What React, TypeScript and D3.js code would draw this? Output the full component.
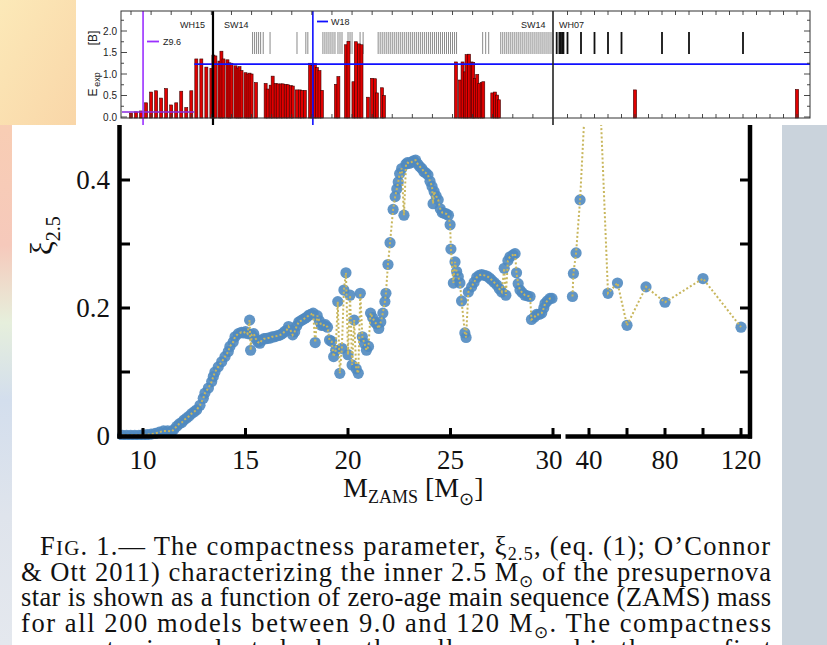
import React from "react";
import * as d3 from "d3";

// ---------------- main chart data (compactness xi_2.5 vs ZAMS mass) ----------------
const massLeft = [
  9.0, 9.2, 9.4, 9.6, 9.8, 10.0, 10.2, 10.4, 10.6, 10.8, 11.0, 11.2, 11.4,
  11.5, 11.64, 11.77, 11.89, 12.0, 12.13, 12.25, 12.37, 12.5, 12.62, 12.78, 12.94,
  13.02, 13.19, 13.35, 13.43, 13.51, 13.67, 13.84, 14.0, 14.16, 14.24, 14.4, 14.49,
  14.65, 14.8, 14.9, 15.0, 15.1, 15.2, 15.25, 15.3, 15.4, 15.5, 15.6, 15.7, 15.8,
  15.9, 16.0, 16.1, 16.2, 16.3, 16.4, 16.5, 16.6, 16.7, 16.8, 16.9, 17.0, 17.1,
  17.2, 17.3, 17.4, 17.5, 17.6, 17.7, 17.8, 17.9, 18.0, 18.1, 18.2, 18.3, 18.4,
  18.5, 18.6, 18.7, 18.8, 18.9, 19.0, 19.1, 19.2, 19.3, 19.4, 19.5, 19.6, 19.7,
  19.8, 19.9, 20.0, 20.1, 20.2, 20.3, 20.4, 20.5, 20.6, 20.7, 20.8, 20.9, 21.0,
  21.1, 21.2, 21.3, 21.4, 21.5, 21.6, 21.7, 21.8, 21.85, 21.95, 22.05, 22.2, 22.3,
  22.38, 22.45, 22.52, 22.62, 22.73, 22.83, 22.9, 23.0, 23.1, 23.2, 23.3, 23.4,
  23.5, 23.6, 23.7, 23.8, 23.9, 24.0, 24.1, 24.15, 24.2, 24.3, 24.4, 24.5, 24.6,
  24.7, 24.8, 24.9, 24.98, 25.02, 25.14, 25.22, 25.3, 25.38, 25.46, 25.54, 25.7,
  25.76, 25.87, 26.03, 26.15, 26.28, 26.4, 26.52, 26.65, 26.77, 26.9, 27.0, 27.13,
  27.26, 27.38, 27.5, 27.62, 27.7, 27.8, 27.9, 28.05, 28.15, 28.22, 28.3, 28.39,
  28.5, 28.63, 28.75, 28.88, 28.95, 29.1, 29.2, 29.33, 29.45, 29.55, 29.61, 29.72,
  29.85, 29.95,
];
const xiLeft = [
  0.001, 0.001, 0.001, 0.001, 0.001, 0.002, 0.002, 0.003, 0.004, 0.006, 0.008, 0.008, 0.007,
  0.010, 0.015, 0.019, 0.021, 0.025, 0.028, 0.031, 0.035, 0.038, 0.041, 0.048, 0.059,
  0.067, 0.075, 0.085, 0.093, 0.100, 0.108, 0.116, 0.124, 0.132, 0.140, 0.147, 0.155,
  0.160, 0.162, 0.161, 0.163, 0.160, 0.181, 0.134, 0.158, 0.160, 0.152, 0.147, 0.145, 0.150,
  0.152, 0.152, 0.153, 0.153, 0.155, 0.155, 0.156, 0.157, 0.158, 0.160, 0.163, 0.165, 0.171,
  0.165, 0.158, 0.163, 0.172, 0.178, 0.180, 0.182, 0.184, 0.186, 0.189, 0.190, 0.192, 0.146,
  0.188, 0.180, 0.173, 0.173, 0.174, 0.170, 0.150, 0.148, 0.124, 0.134, 0.210, 0.098, 0.137,
  0.228, 0.255, 0.127, 0.220, 0.111, 0.181, 0.105, 0.098, 0.223, 0.155, 0.145, 0.134, 0.140,
  0.192, 0.185, 0.178, 0.175, 0.168, 0.178, 0.192, 0.210, 0.223, 0.268, 0.302, 0.354, 0.374,
  0.386, 0.397, 0.410, 0.418, 0.345, 0.425, 0.427, 0.426, 0.428, 0.430, 0.431, 0.425,
  0.421, 0.418, 0.413, 0.411, 0.408, 0.398, 0.390, 0.363, 0.382, 0.375, 0.369, 0.355, 0.349,
  0.348, 0.347, 0.345, 0.330, 0.292, 0.239, 0.272, 0.257, 0.249, 0.239, 0.211, 0.161,
  0.154, 0.225, 0.233, 0.240, 0.248, 0.251, 0.252, 0.251, 0.250, 0.247, 0.244, 0.240,
  0.236, 0.230, 0.225, 0.262, 0.220, 0.274, 0.280, 0.283, 0.285, 0.255, 0.238, 0.228,
  0.224, 0.220, 0.219, 0.218, 0.182, 0.186, 0.190, 0.190, 0.192, 0.200, 0.207, 0.211,
  0.215, 0.215,
];
const massRight = [31.3, 31.8, 33.2, 35.3, 40, 45, 50, 55, 60, 70, 80, 100, 120];
const xiRight = [0.218, 0.254, 0.286, 0.369, 0.64, 0.59, 0.223, 0.239, 0.173, 0.233, 0.209, 0.246, 0.17];

const xTicksLeft = [10, 15, 20, 25, 30];
const xTicksRight = [40, 60, 80, 100, 120];
const xLabelsLeft = ["10", "15", "20", "25", "30"];
const xLabelsRight = ["40", "80", "120"];
const xLabelRightVals = [40, 80, 120];
const yTicks = [0.1, 0.2, 0.3, 0.4];
const yLabelVals = [0, 0.2, 0.4];
const yLabels = ["0", "0.2", "0.4"];

// ---------------- top panel data (explosion energy, B) ----------------
const barMass = [
  9.0, 9.25, 9.5, 9.75, 10.0, 10.25, 10.5, 10.75, 11.0, 11.25, 11.5, 11.75, 12.0, 12.25, 12.5, 12.75, 13.0,
  13.1, 13.2, 13.4, 13.5, 13.6, 13.8, 13.9, 14.0, 14.2, 14.3, 14.4, 14.5, 14.7, 14.8, 14.9, 15.0,
  15.22,
  15.7, 15.8, 15.95, 16.05, 16.2, 16.3, 16.45, 16.55, 16.7, 16.8, 16.95, 17.05, 17.25, 17.4, 17.5, 17.65,
  17.91, 18.03, 18.15, 18.25, 18.38, 18.5,
  19.2, 19.32, 19.7, 19.82, 20.07, 20.19, 20.34, 20.47, 20.79, 20.99, 21.14, 21.24, 21.49, 21.59,
  25.17, 25.37, 25.5, 25.62, 25.7, 25.82, 25.95, 26.03, 26.11, 26.23, 26.33, 26.45, 26.53,
  26.98, 27.11, 27.22, 27.31,
];
const barEnergy = [
  0.09, 0.12, 0.14, 0.33, 0.58, 0.61, 0.44, 0.66, 0.28, 0.33, 0.60, 0.22, 0.61, 1.35, 1.35, 1.16, 1.13,
  1.44, 1.42, 1.30, 1.53, 1.35, 1.33, 1.26, 1.25, 1.19, 1.14, 1.17, 1.08, 1.03, 1.00, 1.02, 1.00,
  0.80,
  0.78, 0.65, 0.74, 0.95, 0.78, 0.77, 0.77, 0.77, 0.76, 0.75, 0.73, 0.72, 0.63, 0.63, 0.62, 0.62,
  1.25, 1.20, 1.24, 1.15, 1.08, 0.62,
  0.76, 0.94, 1.68, 1.76, 0.82, 1.75, 1.70, 1.68, 0.46, 0.90, 0.89, 0.56, 0.68, 0.50,
  1.28, 0.86, 1.28, 1.05, 1.45, 1.46, 1.28, 1.27, 0.90, 0.99, 0.78, 0.80, 0.82,
  0.56, 0.58, 0.51, 0.40,
];
const barMassRight = [60, 120];
const barEnergyRight = [0.63, 0.64];
const sw14Models = [
  15.05, 15.15, 15.25, 15.35, 15.45, 15.58, 15.92, 17.26, 17.7, 17.8,
  18.55, 18.65, 18.75, 18.85, 18.95, 19.05, 19.15, 19.3, 19.4, 19.5, 19.8, 19.9, 20.0, 20.4, 20.55,
  21.3, 21.4, 21.5, 21.6, 21.7, 21.8, 21.9, 22.0, 22.1, 22.2, 22.3, 22.4, 22.5, 22.6, 22.7, 22.8,
  22.9, 23.0, 23.1, 23.2, 23.3, 23.4, 23.5, 23.6, 23.7, 23.8, 23.9, 24.0, 24.1, 24.2, 24.3, 24.4,
  24.5, 24.6, 24.7, 24.8, 24.9, 25.0, 25.1, 25.2,
  26.5, 26.65, 26.8,
  27.4, 27.5, 27.6, 27.7, 27.8, 27.9, 28.0, 28.1, 28.2, 28.3, 28.4, 28.5, 28.6, 28.7, 28.8, 28.9,
  29.0, 29.1, 29.2, 29.3, 29.4, 29.5, 29.6, 29.7, 29.8, 29.9,
];
const wh07Models = [31, 32, 32.5, 33, 33.5, 35, 40, 45, 50, 55, 70, 80, 100];
const topYLabelVals = [0, 0.5, 1.0, 1.5, 2.0];
const topYLabels = ["0.0", "0.5", "1.0", "1.5", "2.0"];
const topYMinor = [0.25, 0.75, 1.25, 1.75, 2.25];
const topXTicksLeft = [9, 10, 11, 12, 13, 14, 15, 16, 17, 18, 19, 20, 21, 22, 23, 24, 25, 26, 27, 28, 29];
const topXTicksRight = [35, 40, 45, 50, 55, 60, 65, 70, 75, 80, 85, 90, 95, 100, 105, 110, 115, 120];
const seriesBoundaries = [9.6, 13.08, 18.05, 30];
const ejectionLevel = 1.23;
const lowLevel = 0.116;

const serif = "'Liberation Serif', 'Times New Roman', serif";
const sans = "'Liberation Sans', Arial, sans-serif";

export default function App() {
  // main scales
  const xL = d3.scaleLinear().domain([10, 30]).range([143, 553]);
  const xR = d3.scaleLinear().domain([40, 120]).range([589, 741]);
  const y = d3.scaleLinear().domain([0, 0.4]).range([436, 180]);
  const left = massLeft.map((m, i) => [m, xiLeft[i]]);
  const right = massRight.map((m, i) => [m, xiRight[i]]);
  const lineL = d3.line<number[]>().x((d) => xL(d[0])).y((d) => y(d[1]));
  const lineR = d3.line<number[]>().x((d) => xR(d[0])).y((d) => y(d[1]));

  // top panel scales
  const xTL = d3.scaleLinear().domain([9, 30]).range([131, 553]);
  const xTR = d3.scaleLinear().domain([30, 120]).range([554, 797]);
  const xT = (m: number) => (m <= 30 ? xTL(m) : xTR(m));
  const yT = d3.scaleLinear().domain([0, 2]).range([117, 31]);
  const TL = 121, TR = 810, TT = 11, TB = 118;

  const markerFill = "#5089c0";
  const dotted = "#c8b65c";

  return (
    <svg width={827} height={645} style={{ position: "absolute", left: 0, top: 0, background: "#fff" }}>
      <defs>
        <linearGradient id="stripGrad" x1="0" y1="0" x2="0" y2="1">
          <stop offset="0" stopColor="#fbe3a8" />
          <stop offset="0.2" stopColor="#f8cdb4" />
          <stop offset="0.38" stopColor="#f6c9bb" />
          <stop offset="0.5" stopColor="#e6efdc" />
          <stop offset="0.62" stopColor="#d3deed" />
          <stop offset="0.8" stopColor="#dfe4ec" />
          <stop offset="1" stopColor="#e4e8ee" />
        </linearGradient>
        <linearGradient id="cornerGrad" x1="0" y1="0" x2="1" y2="1">
          <stop offset="0" stopColor="#fce9b8" />
          <stop offset="1" stopColor="#f9d6a8" />
        </linearGradient>
        <clipPath id="clipL">
          <rect x={117} y={120} width={444} height={320} />
        </clipPath>
        <clipPath id="clipR">
          <rect x={564} y={120} width={188} height={320} />
        </clipPath>
      </defs>

      {/* backgrounds */}
      <rect x={0} y={0} width={827} height={645} fill="#ffffff" />
      <rect x={0} y={0} width={12} height={645} fill="url(#stripGrad)" />
      <rect x={0} y={0} width={76} height={125} fill="url(#cornerGrad)" />
      <rect x={782} y={125} width={45} height={520} fill="#cad3dc" />

      {/* ---------------- main chart ---------------- */}
      <g clipPath="url(#clipL)">
        {left.map((d, i) => (
          <circle key={i} cx={xL(d[0])} cy={y(d[1])} r={5.6} fill={markerFill} fillOpacity={0.9} />
        ))}
        <path d={lineL(left) || ""} fill="none" stroke={dotted} strokeWidth={2} strokeDasharray="2 2.2" />
      </g>
      <g clipPath="url(#clipR)">
        {right.map((d, i) => (
          <circle key={i} cx={xR(d[0])} cy={y(d[1])} r={5.6} fill={markerFill} fillOpacity={0.9} />
        ))}
        <path d={lineR(right) || ""} fill="none" stroke={dotted} strokeWidth={2} strokeDasharray="2 2.2" />
      </g>

      {/* axes */}
      <g stroke="#000" strokeWidth={4.5} fill="none">
        <line x1={119.5} y1={120} x2={119.5} y2={438.5} />
        <line x1={750} y1={120} x2={750} y2={438.5} />
        <line x1={117.5} y1={436.5} x2={561} y2={436.5} />
        <line x1={565.5} y1={436.5} x2={752} y2={436.5} />
      </g>
      <g stroke="#000" strokeWidth={3}>
        {yTicks.map((t) => (
          <line key={"yl" + t} x1={120} x2={130} y1={y(t)} y2={y(t)} />
        ))}
        {yTicks.map((t) => (
          <line key={"yr" + t} x1={740} x2={750} y1={y(t)} y2={y(t)} />
        ))}
        {xTicksLeft.map((t) => (
          <line key={"xl" + t} x1={xL(t)} x2={xL(t)} y1={436} y2={428} />
        ))}
        {xTicksRight.map((t) => (
          <line key={"xr" + t} x1={xR(t)} x2={xR(t)} y1={436} y2={428} />
        ))}
      </g>
      <g fontFamily={serif} fontSize={27} fill="#111">
        {yLabelVals.map((v, i) => (
          <text key={"yt" + i} x={110} y={y(v) + 9} textAnchor="end">
            {yLabels[i]}
          </text>
        ))}
        {xTicksLeft.map((t, i) => (
          <text key={"xt" + i} x={t === 30 ? xL(t) - 4 : xL(t)} y={469} textAnchor="middle">
            {xLabelsLeft[i]}
          </text>
        ))}
        {xLabelRightVals.map((t, i) => (
          <text key={"xtr" + i} x={xR(t)} y={469} textAnchor="middle">
            {xLabelsRight[i]}
          </text>
        ))}
      </g>
      {/* axis titles */}
      <text fontFamily={serif} fontSize={28} fill="#111" x={343} y={497}>
        M<tspan fontSize={18} dy={6}>ZAMS</tspan>
        <tspan dy={-6}> [M</tspan>
        <tspan fontSize={18} dy={8}>⊙</tspan>
        <tspan dy={-8}>]</tspan>
      </text>
      <text fontFamily={serif} fontSize={31} fill="#111" transform="translate(52,255) rotate(-90)">
        ξ<tspan fontSize={20} dy={8}>2.5</tspan>
      </text>

      {/* caption */}
      <g fontFamily={serif} fontSize={26.5} fill="#111">
        <text x={40} y={555} textLength={730} lengthAdjust="spacing">
          F<tspan fontSize={21}>IG</tspan>. 1.— The compactness parameter, ξ<tspan fontSize={18} dy={5}>2.5</tspan>
          <tspan dy={-5}>, (eq. (1); O’Connor</tspan>
        </text>
        <text x={21} y={580.5} textLength={750} lengthAdjust="spacing">
          &amp; Ott 2011) characterizing the inner 2.5 M<tspan fontSize={17} dy={6}>⊙</tspan>
          <tspan dy={-6}> of the presupernova</tspan>
        </text>
        <text x={21} y={606} textLength={750} lengthAdjust="spacing">
          star is shown as a function of zero-age main sequence (ZAMS) mass
        </text>
        <text x={21} y={631.5} textLength={750} lengthAdjust="spacing">
          for all 200 models between 9.0 and 120 M<tspan fontSize={17} dy={6}>⊙</tspan>
          <tspan dy={-6}>.  The compactness</tspan>
        </text>
        <text x={21} y={658} textLength={750} lengthAdjust="spacing">
          parameter is evaluated when the collapse speed in the core first
        </text>
      </g>

      {/* ---------------- top inset panel ---------------- */}
      <rect x={76} y={0} width={739} height={125} fill="#ffffff" />
      {/* tick rows of model masses */}
      <g stroke="#8a8a8a" strokeWidth={1}>
        {sw14Models.map((m, i) => (
          <line key={"sw" + i} x1={xT(m)} x2={xT(m)} y1={32} y2={54} />
        ))}
      </g>
      <g stroke="#111" strokeWidth={1.8}>
        {wh07Models.map((m, i) => (
          <line key={"wh" + i} x1={xT(m)} x2={xT(m)} y1={32} y2={54} />
        ))}
      </g>
      {/* bars */}
      <g fill="#e00000" stroke="#3a0000" strokeWidth={0.6}>
        {barMass.map((m, i) => (
          <rect key={"b" + i} x={xT(m) - 1.5} y={yT(barEnergy[i])} width={3} height={TB - yT(barEnergy[i])} />
        ))}
        {barMassRight.map((m, i) => (
          <rect key={"br" + i} x={xT(m) - 1.6} y={yT(barEnergyRight[i])} width={3.2} height={TB - yT(barEnergyRight[i])} />
        ))}
      </g>
      {/* reference lines */}
      <line x1={TL + 1} x2={xT(12.15)} y1={yT(lowLevel)} y2={yT(lowLevel)} stroke="#8a2be2" strokeWidth={1.6} />
      <line x1={xT(12.15)} x2={TR} y1={yT(ejectionLevel)} y2={yT(ejectionLevel)} stroke="#1010ff" strokeWidth={1.8} />
      <line x1={xT(seriesBoundaries[0])} x2={xT(seriesBoundaries[0])} y1={TT} y2={125} stroke="#9b30ff" strokeWidth={1.6} />
      <line x1={xT(seriesBoundaries[1])} x2={xT(seriesBoundaries[1])} y1={TT} y2={125} stroke="#000" strokeWidth={2.2} />
      <line x1={xT(seriesBoundaries[2])} x2={xT(seriesBoundaries[2])} y1={TT} y2={125} stroke="#1010ff" strokeWidth={1.6} />
      <line x1={xT(seriesBoundaries[3])} x2={xT(seriesBoundaries[3])} y1={TT} y2={125} stroke="#222" strokeWidth={1.6} />

      {/* frame & ticks */}
      <rect x={TL} y={TT} width={TR - TL} height={TB - TT} fill="none" stroke="#333" strokeWidth={1} />
      <g stroke="#333" strokeWidth={0.9}>
        {topYLabelVals.map((v) => (
          <g key={"ty" + v}>
            <line x1={TL} x2={TL + 6} y1={yT(v)} y2={yT(v)} />
            <line x1={TR - 6} x2={TR} y1={yT(v)} y2={yT(v)} />
          </g>
        ))}
        {topYMinor.map((v) => (
          <g key={"tym" + v}>
            <line x1={TL} x2={TL + 3} y1={yT(v)} y2={yT(v)} />
            <line x1={TR - 3} x2={TR} y1={yT(v)} y2={yT(v)} />
          </g>
        ))}
        {topXTicksLeft.map((m) => (
          <g key={"txl" + m}>
            <line x1={xTL(m)} x2={xTL(m)} y1={TB} y2={TB - 4} />
            <line x1={xTL(m)} x2={xTL(m)} y1={TT} y2={TT + 4} />
          </g>
        ))}
        {topXTicksRight.map((m) => (
          <g key={"txr" + m}>
            <line x1={xTR(m)} x2={xTR(m)} y1={TB} y2={TB - 4} />
            <line x1={xTR(m)} x2={xTR(m)} y1={TT} y2={TT + 4} />
          </g>
        ))}
      </g>
      <g fontFamily={sans} fontSize={10} fill="#222">
        {topYLabelVals.map((v, i) => (
          <text key={"tyl" + i} x={117} y={yT(v) + 3.5} textAnchor="end">
            {topYLabels[i]}
          </text>
        ))}
      </g>
      {/* E_exp [B] */}
      <g fontFamily={sans} fill="#222">
        <text fontSize={12} textAnchor="middle" transform="translate(97,92.5) rotate(-90)">E</text>
        <text fontSize={9} textAnchor="middle" transform="translate(100,79.5) rotate(-90)">exp</text>
        <text fontSize={12} textAnchor="middle" transform="translate(97,38) rotate(-90)">[B]</text>
      </g>
      {/* series labels */}
      <g fontFamily={sans} fontSize={9} fill="#222">
        <text x={180} y={28}>WH15</text>
        <text x={224} y={28}>SW14</text>
        <text x={521} y={28}>SW14</text>
        <text x={559} y={28}>WH07</text>
        <text x={331} y={25}>W18</text>
        <text x={163} y={45}>Z9.6</text>
      </g>
      <line x1={317} x2={328} y1={21.5} y2={21.5} stroke="#1010ff" strokeWidth={1.8} />
      <line x1={147} x2={159} y1={41.5} y2={41.5} stroke="#9b30ff" strokeWidth={1.8} />
    </svg>
  );
}
